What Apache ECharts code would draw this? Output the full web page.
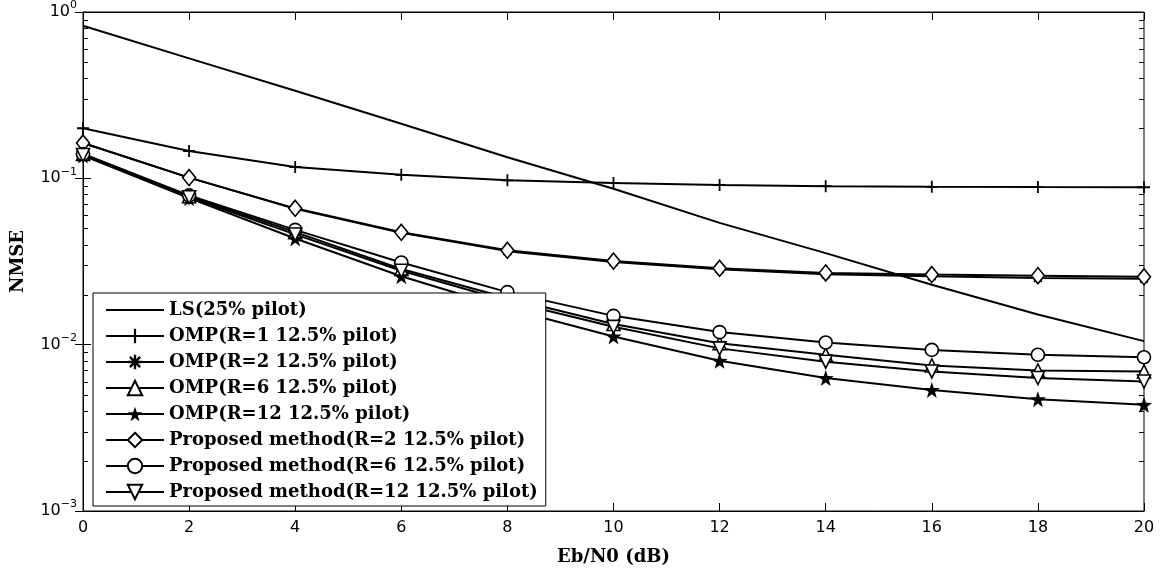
<!DOCTYPE html>
<html>
<head>
<meta charset="utf-8">
<script src="https://cdn.jsdelivr.net/npm/echarts@6/dist/echarts.min.js"></script>
<style>html,body{margin:0;padding:0;background:#fff}#c{width:1164px;height:571px}</style>
</head>
<body>
<div id="c"></div>
<script>
// ---- data ----
const snr = [0, 2, 4, 6, 8, 10, 12, 14, 16, 18, 20];
const xTicks = [0, 2, 4, 6, 8, 10, 12, 14, 16, 18, 20];
const lsPilot25 = [0.826, 0.526, 0.336, 0.213, 0.134, 0.0865, 0.054, 0.0355, 0.0229, 0.0152, 0.0105];
const ompR1 = [0.20, 0.146, 0.117, 0.105, 0.0973, 0.0938, 0.0913, 0.0897, 0.0889, 0.0886, 0.0884];
const ompR2 = [0.163, 0.101, 0.0655, 0.047, 0.0365, 0.0314, 0.0284, 0.0265, 0.0258, 0.0252, 0.0249];
const ompR6 = [0.14, 0.078, 0.0475, 0.0285, 0.0191, 0.0133, 0.0102, 0.0087, 0.0075, 0.0070, 0.0069];
const ompR12 = [0.137, 0.076, 0.0435, 0.0258, 0.0165, 0.0112, 0.0080, 0.0063, 0.00534, 0.0047, 0.00435];
const propR2 = [0.163, 0.101, 0.066, 0.0474, 0.0369, 0.0318, 0.0288, 0.0270, 0.0264, 0.0260, 0.0256];
const propR6 = [0.14, 0.079, 0.049, 0.0312, 0.0207, 0.0149, 0.0119, 0.0103, 0.0093, 0.0087, 0.0084];
const propR12 = [0.138, 0.077, 0.046, 0.0278, 0.0183, 0.0128, 0.0095, 0.0079, 0.0069, 0.0063, 0.0060];
const seriesNames = [
  'LS(25% pilot)',
  'OMP(R=1 12.5% pilot)',
  'OMP(R=2 12.5% pilot)',
  'OMP(R=6 12.5% pilot)',
  'OMP(R=12 12.5% pilot)',
  'Proposed method(R=2 12.5% pilot)',
  'Proposed method(R=6 12.5% pilot)',
  'Proposed method(R=12 12.5% pilot)'
];
const yMinorTicks = [];
[0.001, 0.01, 0.1].forEach(d => { for (let k = 2; k <= 9; k++) yMinorTicks.push(+(k * d).toPrecision(3)); });

// ---- symbols ----
const SYM_PLUS = 'path://M-0.9,-6L0.9,-6L0.9,-0.9L6,-0.9L6,0.9L0.9,0.9L0.9,6L-0.9,6L-0.9,0.9L-6,0.9L-6,-0.9L-0.9,-0.9Z';
const SYM_AST = 'path://M-1,-6L1,-6L1,6L-1,6Z M-6,-1L6,-1L6,1L-6,1Z M3.54,-4.95L4.95,-3.54L-3.54,4.95L-4.95,3.54Z M-4.95,-3.54L-3.54,-4.95L4.95,3.54L3.54,4.95Z';
const SYM_STAR = 'path://M0,-10L2.35,-3.24L9.51,-3.09L3.80,1.24L5.88,8.09L0,4L-5.88,8.09L-3.80,1.24L-9.51,-3.09L-2.35,-3.24Z';
const SYM_DOWN = 'path://M-6,-5L6,-5L0,6Z';
const SYM_UP = 'path://M0,-6L6,5L-6,5Z';

const pair = arr => snr.map((x, i) => [x, arr[i]]);
function mk(name, arr, symbol, size, kind) {
  let itemStyle;
  if (kind === 'hollow') itemStyle = { color: '#fff', borderColor: '#000', borderWidth: 1.6 };
  else if (kind === 'none') itemStyle = { color: 'rgba(0,0,0,0)', borderColor: 'rgba(0,0,0,0)', borderWidth: 0 };
  else itemStyle = { color: '#000', borderColor: '#000', borderWidth: 0 };
  return {
    name: name, type: 'line', data: pair(arr),
    symbol: symbol, symbolSize: size, showSymbol: kind !== 'none',
    lineStyle: { color: '#000', width: 2 },
    itemStyle: itemStyle,
    emphasis: { disabled: true }, animation: false, z: 3
  };
}

const chart = echarts.init(document.getElementById('c'), null, { renderer: 'canvas' });
const sans = 'DejaVu Sans';
const serif = 'DejaVu Serif';
const logLabel = v => {
  const e = Math.round(Math.log10(v));
  return '{b|10}{s|' + (e < 0 ? '\u2212' + (-e) : e) + '}';
};
const labelRich = {
  b: { fontFamily: sans, fontSize: 16, lineHeight: 16, color: '#000' },
  s: { fontFamily: sans, fontSize: 11, lineHeight: 11, padding: [0, 0, 13, 0], color: '#000' }
};

chart.setOption({
  backgroundColor: '#fff',
  animation: false,
  grid: { left: 83, right: 20, top: 10, bottom: 55, show: true, borderColor: '#000', borderWidth: 1, backgroundColor: '#fff' },
  legend: {
    data: seriesNames, orient: 'vertical', left: 93, top: 293,
    backgroundColor: '#fff', borderColor: '#000', borderWidth: 1,
    padding: [7, 8, 4, 12], itemWidth: 58, itemHeight: 18, itemGap: 6,
    textStyle: { fontFamily: serif, fontWeight: 'bold', fontSize: 18, lineHeight: 20, color: '#000' },
    selectedMode: false, z: 10
  },
  xAxis: [{
    type: 'value', min: 0, max: 20, interval: 2,
    name: 'Eb/N0 (dB)', nameLocation: 'middle', nameGap: 37,
    nameTextStyle: { fontFamily: serif, fontWeight: 'bold', fontSize: 18, color: '#000' },
    axisLine: { lineStyle: { color: '#000', width: 1 } },
    axisTick: { inside: true, length: 8, lineStyle: { color: '#000' } },
    axisLabel: { fontFamily: sans, fontSize: 16, color: '#000', margin: 9, formatter: v => xTicks.includes(v) ? String(v) : '' },
    splitLine: { show: false }
  }, {
    type: 'value', min: 0, max: 20, interval: 2, position: 'top',
    axisLine: { lineStyle: { color: '#000', width: 1 } },
    axisTick: { inside: true, length: 8, lineStyle: { color: '#000' } },
    axisLabel: { show: false }, splitLine: { show: false }
  }],
  yAxis: [{
    type: 'log', logBase: 10, min: 0.001, max: 1,
    name: 'NMSE', nameLocation: 'middle', nameGap: 56,
    nameTextStyle: { fontFamily: serif, fontWeight: 'bold', fontSize: 18, color: '#000' },
    axisLine: { show: true, lineStyle: { color: '#000', width: 1 } },
    axisTick: { show: true, inside: true, length: 8, lineStyle: { color: '#000' } },
    axisLabel: { margin: 6, formatter: logLabel, rich: labelRich },
    splitLine: { show: false }
  }, {
    type: 'log', logBase: 10, min: 0.001, max: 1, position: 'right',
    axisLine: { show: true, lineStyle: { color: '#000', width: 1 } },
    axisTick: { show: true, inside: true, length: 8, lineStyle: { color: '#000' } },
    axisLabel: { show: false }, splitLine: { show: false }
  }],
  series: [
    {
      type: 'custom', name: 'minorTicks', silent: true, z: 1,
      data: yMinorTicks.map(v => [0, v]),
      renderItem: function (params, api) {
        const p = api.coord([0, api.value(1)]);
        const cs = params.coordSys;
        const y = Math.round(p[1]) + 0.5;
        return {
          type: 'group', children: [
            { type: 'line', shape: { x1: cs.x, y1: y, x2: cs.x + 5, y2: y }, style: { stroke: '#000', lineWidth: 1 } },
            { type: 'line', shape: { x1: cs.x + cs.width, y1: y, x2: cs.x + cs.width - 5, y2: y }, style: { stroke: '#000', lineWidth: 1 } }
          ]
        };
      }
    },
    mk(seriesNames[0], lsPilot25, 'circle', 0, 'none'),
    mk(seriesNames[1], ompR1, SYM_PLUS, 12, 'solid'),
    mk(seriesNames[2], ompR2, SYM_AST, 11, 'solid'),
    mk(seriesNames[3], ompR6, SYM_UP, 13, 'hollow'),
    mk(seriesNames[4], ompR12, SYM_STAR, 16, 'solid'),
    mk(seriesNames[5], propR2, 'diamond', [13, 16], 'hollow'),
    mk(seriesNames[6], propR6, 'circle', 13, 'hollow'),
    mk(seriesNames[7], propR12, SYM_DOWN, 13, 'hollow')
  ]
});
</script>
</body>
</html>
